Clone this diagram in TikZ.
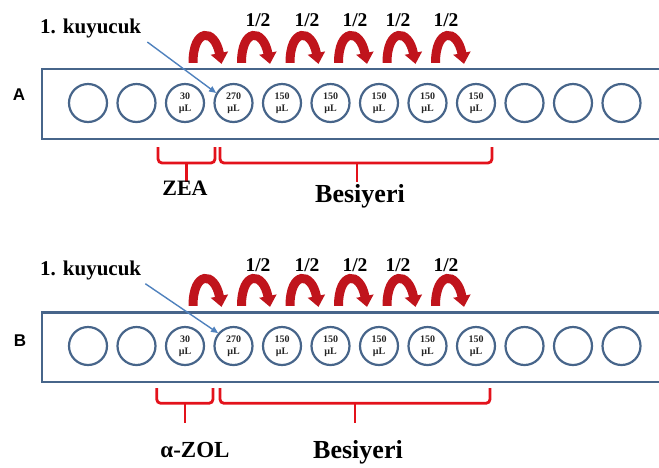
\documentclass[tikz,border=0pt]{standalone}
\usepackage{fontspec}
\setmainfont{Liberation Serif}
\newfontfamily\arialfont{Liberation Sans}
\usetikzlibrary{arrows.meta}
\definecolor{PlateBlue}{HTML}{47658A}
\definecolor{PointerBlue}{HTML}{4F81BD}
\definecolor{HalfRed}{HTML}{C0141C}
\definecolor{BraceRed}{HTML}{E3121B}

\tikzset{
  well/.style={circle, draw=PlateBlue, line width=2.2pt, minimum size=38pt, inner sep=0pt,
    font=\fontsize{10}{12.5}\selectfont\bfseries, align=center, text=black!85},
  plate/.style={draw=PlateBlue, line width=2.6pt},
  halfarrow/.style={draw=HalfRed, line width=9pt, -{Triangle[width=17pt,length=11pt]}},
  pointer/.style={draw=PointerBlue, line width=1.4pt, -{Triangle[width=6pt,length=7pt]}},
  brace/.style={draw=BraceRed, line width=2.8pt, rounded corners=4pt},
  lbl/.style={anchor=base, inner sep=0pt, font=\bfseries},
  rowlbl/.style={anchor=base, inner sep=0pt, font=\arialfont\bfseries\fontsize{17}{20}\selectfont},
}

\begin{document}
\begin{tikzpicture}[x=1pt, y=-1pt]
  \useasboundingbox (0,0) rectangle (659,467);

  % --- plate A ---
  \node[rowlbl] (rowA) at (19,100) {A};
  \draw[plate] (670,69) -- (42,69) -- (42,139) -- (670,139);

  \node[well] (a1) at (88,103) {};
  \node[well] (a2) at (136.5,103) {};
  \node[well] (a3) at (185,103) {30\\µL};
  \node[well] (a4) at (233.5,103) {270\\µL};
  \node[well] (a5) at (282,103) {150\\µL};
  \node[well] (a6) at (330.5,103) {150\\µL};
  \node[well] (a7) at (379,103) {150\\µL};
  \node[well] (a8) at (427.5,103) {150\\µL};
  \node[well] (a9) at (476,103) {150\\µL};
  \node[well] (a10) at (524.5,103) {};
  \node[well] (a11) at (573,103) {};
  \node[well] (a12) at (621.5,103) {};

  \draw[halfarrow] ([xshift=8pt,yshift=20pt]a3.north) .. controls +(0,-35) and +(-7,-36) .. ([xshift=-12pt,yshift=19pt]a4.north);
  \draw[halfarrow] ([xshift=8pt,yshift=20pt]a4.north) .. controls +(0,-35) and +(-7,-36) .. ([xshift=-12pt,yshift=19pt]a5.north);
  \draw[halfarrow] ([xshift=8pt,yshift=20pt]a5.north) .. controls +(0,-35) and +(-7,-36) .. ([xshift=-12pt,yshift=19pt]a6.north);
  \draw[halfarrow] ([xshift=8pt,yshift=20pt]a6.north) .. controls +(0,-35) and +(-7,-36) .. ([xshift=-12pt,yshift=19pt]a7.north);
  \draw[halfarrow] ([xshift=8pt,yshift=20pt]a7.north) .. controls +(0,-35) and +(-7,-36) .. ([xshift=-12pt,yshift=19pt]a8.north);
  \draw[halfarrow] ([xshift=8pt,yshift=20pt]a8.north) .. controls +(0,-35) and +(-7,-36) .. ([xshift=-12pt,yshift=19pt]a9.north);

  \node[lbl, font=\bfseries\fontsize{19.5}{22}\selectfont] (halfA1) at (258,26.7) {1/2};
  \node[lbl, font=\bfseries\fontsize{19.5}{22}\selectfont] (halfA2) at (307,26.7) {1/2};
  \node[lbl, font=\bfseries\fontsize{19.5}{22}\selectfont] (halfA3) at (355,26.7) {1/2};
  \node[lbl, font=\bfseries\fontsize{19.5}{22}\selectfont] (halfA4) at (398,26.7) {1/2};
  \node[lbl, font=\bfseries\fontsize{19.5}{22}\selectfont] (halfA5) at (446,26.7) {1/2};

  \node[lbl, anchor=base west, font=\bfseries\fontsize{21}{24}\selectfont] (kuyA) at (40,33.3) {1. kuyucuk};
  \draw[pointer] ([xshift=6pt,yshift=-4pt]kuyA.south east) -- (a4.150);

  \draw[brace] (158,147) -- (158,163) -- (215,163) -- (215,147);
  \draw[brace] (186.7,163) -- (186.7,182);
  \draw[brace] (220,147) -- (220,163) -- (492,163) -- (492,147);
  \draw[brace] (357,163) -- (357,182);
  \node[lbl, font=\bfseries\fontsize{22}{26}\selectfont] (zea) at (185,195) {ZEA};
  \node[lbl, font=\bfseries\fontsize{26}{30}\selectfont] (mediumA) at (360,202) {Besiyeri};

  % --- plate B ---
  \node[rowlbl] (rowB) at (20,346.7) {B};
  \draw[plate] (670,312.5) -- (42,312.5) -- (42,382) -- (670,382);

  \node[well] (b1) at (88,346) {};
  \node[well] (b2) at (136.5,346) {};
  \node[well] (b3) at (185,346) {30\\µL};
  \node[well] (b4) at (233.5,346) {270\\µL};
  \node[well] (b5) at (282,346) {150\\µL};
  \node[well] (b6) at (330.5,346) {150\\µL};
  \node[well] (b7) at (379,346) {150\\µL};
  \node[well] (b8) at (427.5,346) {150\\µL};
  \node[well] (b9) at (476,346) {150\\µL};
  \node[well] (b10) at (524.5,346) {};
  \node[well] (b11) at (573,346) {};
  \node[well] (b12) at (621.5,346) {};

  \draw[halfarrow] ([xshift=8pt,yshift=20pt]b3.north) .. controls +(0,-35) and +(-7,-36) .. ([xshift=-12pt,yshift=19pt]b4.north);
  \draw[halfarrow] ([xshift=8pt,yshift=20pt]b4.north) .. controls +(0,-35) and +(-7,-36) .. ([xshift=-12pt,yshift=19pt]b5.north);
  \draw[halfarrow] ([xshift=8pt,yshift=20pt]b5.north) .. controls +(0,-35) and +(-7,-36) .. ([xshift=-12pt,yshift=19pt]b6.north);
  \draw[halfarrow] ([xshift=8pt,yshift=20pt]b6.north) .. controls +(0,-35) and +(-7,-36) .. ([xshift=-12pt,yshift=19pt]b7.north);
  \draw[halfarrow] ([xshift=8pt,yshift=20pt]b7.north) .. controls +(0,-35) and +(-7,-36) .. ([xshift=-12pt,yshift=19pt]b8.north);
  \draw[halfarrow] ([xshift=8pt,yshift=20pt]b8.north) .. controls +(0,-35) and +(-7,-36) .. ([xshift=-12pt,yshift=19pt]b9.north);

  \node[lbl, font=\bfseries\fontsize{19.5}{22}\selectfont] (halfB1) at (258,271.7) {1/2};
  \node[lbl, font=\bfseries\fontsize{19.5}{22}\selectfont] (halfB2) at (307,271.7) {1/2};
  \node[lbl, font=\bfseries\fontsize{19.5}{22}\selectfont] (halfB3) at (355,271.7) {1/2};
  \node[lbl, font=\bfseries\fontsize{19.5}{22}\selectfont] (halfB4) at (398,271.7) {1/2};
  \node[lbl, font=\bfseries\fontsize{19.5}{22}\selectfont] (halfB5) at (446,271.7) {1/2};

  \node[lbl, anchor=base west, font=\bfseries\fontsize{21}{24}\selectfont] (kuyB) at (40,275) {1. kuyucuk};
  \draw[pointer] ([xshift=4pt,yshift=-4pt]kuyB.south east) -- (b4.140);

  \draw[brace] (156.7,388) -- (156.7,403.3) -- (213,403.3) -- (213,388);
  \draw[brace] (185,403.3) -- (185,423.3);
  \draw[brace] (220,388) -- (220,403.3) -- (490,403.3) -- (490,388);
  \draw[brace] (355,403.3) -- (355,423.3);
  \node[lbl, font=\bfseries\fontsize{23}{27}\selectfont] (zol) at (195,457) {α-ZOL};
  \node[lbl, font=\bfseries\fontsize{26}{30}\selectfont] (mediumB) at (358,458) {Besiyeri};
\end{tikzpicture}
\end{document}
